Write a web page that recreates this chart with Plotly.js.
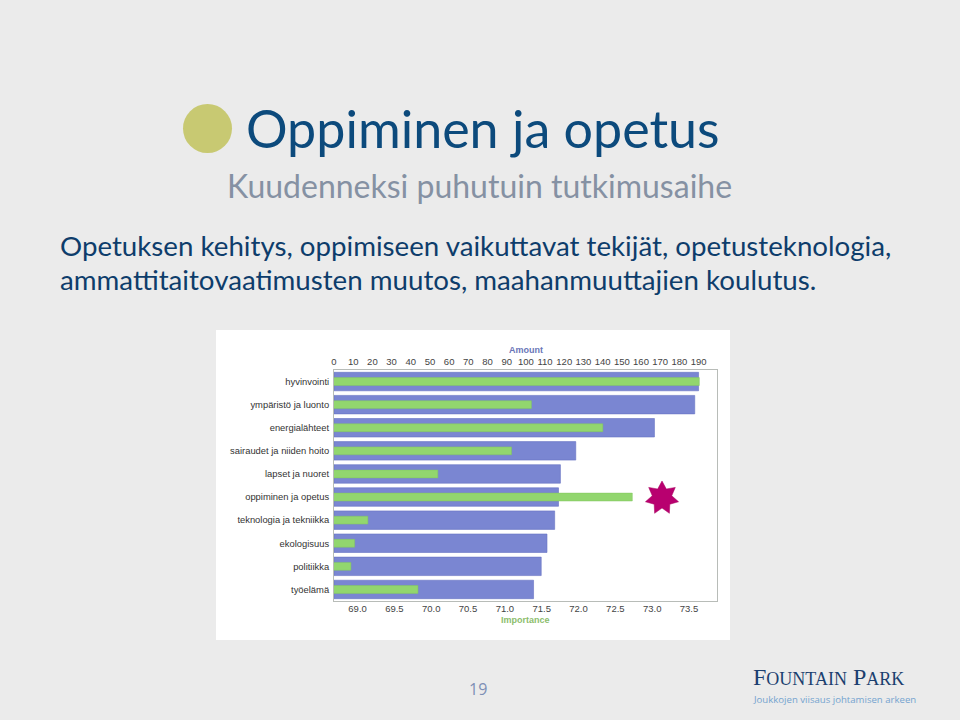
<!DOCTYPE html>
<html>
<head>
<meta charset="utf-8">
<script src="https://cdn.plot.ly/plotly-3.0.1.min.js"></script>
<style>html,body{margin:0;padding:0;background:#ebebeb;}#chart{width:960px;height:720px;}</style>
</head>
<body>
<div id="chart"></div>
<script>
// ---- data ----
const categories = ["hyvinvointi","ympäristö ja luonto","energialähteet","sairaudet ja niiden hoito","lapset ja nuoret","oppiminen ja opetus","teknologia ja tekniikka","ekologisuus","politiikka","työelämä"];
const amount = [190, 188, 167, 126, 118, 117, 115, 111, 108, 104];
const importance = [73.64, 71.36, 72.33, 71.09, 70.09, 72.73, 69.14, 68.96, 68.91, 69.82];
const amountTicks = [0,10,20,30,40,50,60,70,80,90,100,110,120,130,140,150,160,170,180,190];
const importanceTicks = [69.0,69.5,70.0,70.5,71.0,71.5,72.0,72.5,73.0,73.5];

// ---- layout helpers (pixel -> paper) ----
const W = 960, H = 720;
const L = 334, R = 717, T = 370, B = 601;
const px = x => (x - L) / (R - L);
const py = y => 1 - (y - T) / (B - T);

// 7-point star path (pixel offsets)
function starPath(n, ro, ri) {
  let p = '';
  for (let i = 0; i < 2 * n; i++) {
    const a = -Math.PI / 2 + i * Math.PI / n;
    const r = i % 2 === 0 ? ro : ri;
    const x = (r * Math.cos(a)).toFixed(2), y = (-r * Math.sin(a)).toFixed(2);
    p += (i === 0 ? 'M' : 'L') + x + ',' + y;
  }
  return p + 'Z';
}

const traces = [
  {type:'bar', orientation:'h', y:categories, x:amount, xaxis:'x', yaxis:'y',
   width:0.8, marker:{color:'#7a86d2', line:{color:'#6672c2', width:0.6}}, hoverinfo:'x+y'},
  {type:'bar', orientation:'h', y:categories, x:importance, xaxis:'x2', yaxis:'y',
   width:0.34, marker:{color:'#92d66e', line:{color:'#80c65e', width:0.5}}, hoverinfo:'x+y'}
];

const tickFont = {family:'Liberation Sans, Arial, sans-serif', size:9.5, color:'#444'};

const layout = {
  width:W, height:H,
  margin:{l:L, r:W-R, t:T, b:H-B, pad:0},
  paper_bgcolor:'#ebebeb',
  plot_bgcolor:'#f1f3ef',
  showlegend:false,
  barmode:'overlay',
  xaxis:{side:'top', range:[0,199.6], tickvals:amountTicks,
         showgrid:false, zeroline:false, showline:true, mirror:true, linecolor:'#b8bcb8', linewidth:1,
         ticks:'', tickfont:tickFont, fixedrange:true},
  xaxis2:{overlaying:'x', side:'bottom', range:[68.68,73.88], tickvals:importanceTicks, ticktext:importanceTicks.map(v=>v.toFixed(1)),
         showgrid:false, zeroline:false, showline:false,
         ticks:'', tickfont:tickFont, fixedrange:true},
  yaxis:{autorange:'reversed', showgrid:false, zeroline:false, showline:true, mirror:true,
         linecolor:'#b8bcb8', ticks:'', ticklabelstandoff:2,
         tickfont:{family:'Liberation Sans, Arial, sans-serif', size:9.4, color:'#333'}, fixedrange:true},
  shapes:[
    {type:'rect', xref:'paper', yref:'paper', x0:px(216), x1:px(730), y0:py(640), y1:py(330),
     fillcolor:'#ffffff', line:{width:0}, layer:'below'},
    {type:'circle', xref:'paper', yref:'paper', x0:px(183), x1:px(232), y0:py(153), y1:py(104),
     fillcolor:'#c8c972', line:{width:0}, layer:'below'},
    {type:'path', xref:'paper', yref:'paper', xsizemode:'pixel', ysizemode:'pixel',
     xanchor:px(662), yanchor:py(498), path:starPath(7, 17, 10),
     fillcolor:'#b8006f', line:{color:'#a8005f', width:0.5}, layer:'above'}
  ],
  annotations:[
    {text:'Oppiminen ja opetus', xref:'paper', yref:'paper', x:px(244), y:py(128), xanchor:'left', yanchor:'middle',
     showarrow:false, font:{family:'Lato, sans-serif', size:52, color:'#0c4a7c'}},
    {text:'Kuudenneksi puhutuin tutkimusaihe', xref:'paper', yref:'paper', x:px(225), y:py(185), xanchor:'left', yanchor:'middle',
     showarrow:false, font:{family:'Lato, sans-serif', size:32, color:'#8591a3'}},
    {text:'Opetuksen kehitys, oppimiseen vaikuttavat tekijät, opetusteknologia,', xref:'paper', yref:'paper', x:px(58), y:py(245), xanchor:'left', yanchor:'middle',
     showarrow:false, font:{family:'Lato, sans-serif', size:27.7, color:'#0e3d6b'}},
    {text:'ammattitaitovaatimusten muutos, maahanmuuttajien koulutus.', xref:'paper', yref:'paper', x:px(58), y:py(279), xanchor:'left', yanchor:'middle',
     showarrow:false, font:{family:'Lato, sans-serif', size:27.7, color:'#0e3d6b'}},
    {text:'<b>Amount</b>', xref:'paper', yref:'paper', x:px(526), y:py(350), xanchor:'center', yanchor:'middle',
     showarrow:false, font:{family:'Liberation Sans, Arial, sans-serif', size:9, color:'#6a76b8'}},
    {text:'<b>Importance</b>', xref:'paper', yref:'paper', x:px(525), y:py(620), xanchor:'center', yanchor:'middle',
     showarrow:false, font:{family:'Liberation Sans, Arial, sans-serif', size:9, color:'#8cbd6c'}},
    {text:'19', xref:'paper', yref:'paper', x:px(478), y:py(689), xanchor:'center', yanchor:'middle',
     showarrow:false, font:{family:'Open Sans, sans-serif', size:16, color:'#7d8fb5'}},
    {text:'F<span style="font-size:18px">OUNTAIN</span> P<span style="font-size:18px">ARK</span>', xref:'paper', yref:'paper', x:px(751), y:py(677), xanchor:'left', yanchor:'middle',
     showarrow:false, font:{family:'Liberation Serif, serif', size:24, color:'#1b3f6f'}},
    {text:'Joukkojen viisaus johtamisen arkeen', xref:'paper', yref:'paper', x:px(751), y:py(699), xanchor:'left', yanchor:'middle',
     showarrow:false, font:{family:'Open Sans, sans-serif', size:9.6, color:'#74a3cf'}}
  ]
};

Plotly.newPlot('chart', traces, layout, {displayModeBar:false, staticPlot:true});
</script>
</body>
</html>
